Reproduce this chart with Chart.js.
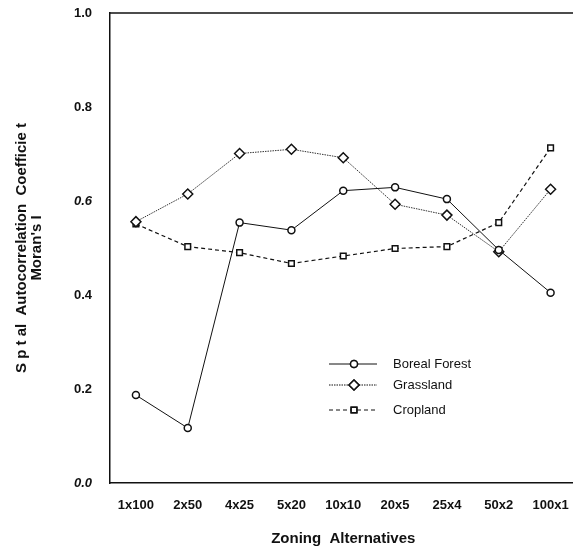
<!DOCTYPE html>
<html>
<head>
<meta charset="utf-8">
<script src="https://cdn.jsdelivr.net/npm/chart.js@4.4.1/dist/chart.umd.min.js"></script>
<style>
  html, body { margin: 0; padding: 0; background: #fff; overflow: hidden; }
  #wrap { width: 573px; height: 551px; overflow: hidden; }
</style>
</head>
<body>
<div id="wrap"><canvas id="chart" width="583" height="551"></canvas></div>
<script>
const zones = ["1x100", "2x50", "4x25", "5x20", "10x10", "20x5", "25x4", "50x2", "100x1"];
const borealForest = [0.187, 0.117, 0.554, 0.538, 0.622, 0.629, 0.604, 0.496, 0.405];
const grassland = [0.556, 0.615, 0.701, 0.710, 0.692, 0.593, 0.570, 0.492, 0.625];
const cropland = [0.551, 0.503, 0.490, 0.467, 0.483, 0.499, 0.503, 0.554, 0.713];
const yTicks = [0, 0.2, 0.4, 0.6, 0.8, 1.0];

const FONT = "'Liberation Sans', Arial, sans-serif";

// legend + top frame line, drawn on the canvas
const frameLegend = {
  id: "frameLegend",
  afterDraw(chart) {
    const c = chart.ctx;
    const a = chart.chartArea;
    c.save();
    c.strokeStyle = "#111";
    c.lineWidth = 1.5;
    c.beginPath();
    c.moveTo(a.left, a.top);
    c.lineTo(a.right, a.top);
    c.stroke();

    const items = [
      { label: "Boreal Forest", y: 364, dash: [], style: "circle", r: 3.5 },
      { label: "Grassland", y: 385, dash: [1.5, 1], style: "rectRot", r: 5 },
      { label: "Cropland", y: 410, dash: [4, 3], style: "rect", r: 4 }
    ];
    c.font = "13px " + FONT;
    c.textBaseline = "middle";
    items.forEach(it => {
      c.setLineDash(it.dash);
      c.lineWidth = 1;
      c.strokeStyle = "#111";
      c.beginPath();
      c.moveTo(329, it.y);
      c.lineTo(377, it.y);
      c.stroke();
      c.setLineDash([]);
      c.fillStyle = "#fff";
      c.lineWidth = 1.5;
      Chart.helpers.drawPoint(c, { pointStyle: it.style, radius: it.r, borderWidth: 1.5 }, 354, it.y);
      c.fill();
      c.stroke();
      c.fillStyle = "#111";
      c.fillText(it.label, 393, it.y);
    });
    c.restore();
  }
};

new Chart(document.getElementById("chart"), {
  type: "line",
  data: {
    labels: zones,
    datasets: [
      {
        label: "Boreal Forest",
        data: borealForest,
        borderColor: "#111",
        borderWidth: 1,
        pointStyle: "circle",
        pointRadius: 3.5,
        pointBorderWidth: 1.5,
        pointBackgroundColor: "#fff",
        pointBorderColor: "#111"
      },
      {
        label: "Grassland",
        data: grassland,
        borderColor: "#333",
        borderWidth: 1,
        borderDash: [1.5, 1],
        pointStyle: "rectRot",
        pointRadius: 5,
        pointBorderWidth: 1.5,
        pointBackgroundColor: "#fff",
        pointBorderColor: "#111"
      },
      {
        label: "Cropland",
        data: cropland,
        borderColor: "#111",
        borderWidth: 1.2,
        borderDash: [4, 3],
        pointStyle: "rect",
        pointRadius: 4,
        pointBorderWidth: 1.5,
        pointBackgroundColor: "#fff",
        pointBorderColor: "#111"
      }
    ]
  },
  options: {
    responsive: false,
    animation: false,
    layout: { padding: { top: 13, right: 0, left: 14, bottom: 0 } },
    plugins: {
      legend: { display: false },
      tooltip: { enabled: false }
    },
    scales: {
      x: {
        offset: true,
        grid: { display: false },
        border: { display: true, color: "#111", width: 1.5 },
        ticks: {
          color: "#111",
          font: { family: FONT, size: 13, weight: "bold" },
          padding: 7,
          maxRotation: 0,
          autoSkip: false
        },
        title: {
          display: true,
          text: "Zoning  Alternatives",
          color: "#111",
          font: { family: FONT, size: 15, weight: "bold" },
          padding: { top: 6, bottom: 3 }
        },
        afterFit: s => { s.height = 68; s.paddingLeft = 0; s.paddingRight = 0; }
      },
      y: {
        min: 0,
        max: 1,
        afterBuildTicks: s => { s.ticks = yTicks.map(v => ({ value: v })); },
        grid: { display: false },
        border: { display: true, color: "#111", width: 1.5 },
        ticks: {
          color: "#111",
          padding: 10,
          font: ctx => ({
            family: FONT,
            size: 13,
            weight: "bold",
            style: (ctx.tick && (ctx.tick.value === 0 || ctx.tick.value === 0.6)) ? "italic" : "normal"
          }),
          callback: v => v.toFixed(1)
        },
        title: {
          display: true,
          text: ["S p t al  Autocorrelation  Coefficie t", "Moran's I"],
          color: "#111",
          font: { family: FONT, size: 15, weight: "bold", lineHeight: 1.0 },
          padding: { top: 0, bottom: 12 }
        },
        afterFit: s => { s.width = 96; s.paddingTop = 0; s.paddingBottom = 0; }
      }
    }
  },
  plugins: [frameLegend]
});
</script>
</body>
</html>
